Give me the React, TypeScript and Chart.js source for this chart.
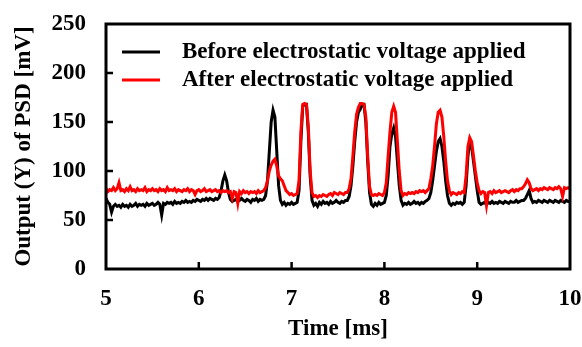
import { useEffect, useRef } from "react";
import { Chart, registerables } from "chart.js";

Chart.register(...registerables);

// Sampling grid of the oscilloscope trace (ms)
const TIME_START = 5;
const TIME_STEP = 0.02;

// Output (Y) of PSD [mV], one value per 0.02 ms from 5.00 to 10.00 ms
const beforeValues = [
  72, 68, 66, 58, 64,
  66, 64, 65, 63, 66,
  64, 65, 63, 66, 64,
  65, 67, 64, 66, 65,
  66, 64, 67, 65, 66,
  67, 65, 66, 68, 66,
  55, 67, 66, 68, 67,
  68, 66, 69, 67, 68,
  67, 69, 68, 70, 68,
  69, 68, 70, 69, 71,
  70, 69, 71, 70, 72,
  70, 72, 71, 70, 72,
  71, 73, 80, 90, 96,
  90, 78, 71, 69, 70,
  71, 69, 70, 72, 70,
  69, 71, 70, 68, 71,
  70, 72, 69, 71, 70,
  71, 75, 90, 120, 150,
  162, 155, 120, 85, 70,
  66, 68, 65, 67, 66,
  68, 66, 67, 68, 80,
  130, 166, 168, 168, 140,
  95, 70, 65, 67, 64,
  68, 66, 69, 67, 68,
  66, 69, 67, 68, 70,
  68, 67, 69, 68, 70,
  70, 74, 85, 105, 130,
  150, 160, 163, 168, 168,
  150, 110, 78, 66, 64,
  67, 65, 68, 66, 67,
  68, 75, 95, 125, 138,
  144, 135, 110, 85, 70,
  65, 67, 66, 68, 66,
  67, 69, 67, 68, 66,
  68, 67, 69, 70, 72,
  78, 90, 105, 120, 130,
  133, 125, 110, 90, 75,
  67, 65, 67, 66, 68,
  67, 68, 66, 68, 85,
  115, 130, 125, 110, 95,
  80, 68, 66, 67, 68,
  66, 68, 67, 69, 67,
  68, 67, 69, 68, 67,
  69, 68, 67, 69, 68,
  68, 70, 68, 69, 70,
  70, 72, 76, 80, 72,
  68, 69, 68, 70, 69,
  68, 70, 69, 68, 70,
  69, 68, 70, 69, 68,
  70, 69, 68, 70, 69,
  69,
];

const afterValues = [
  82, 79, 81, 80, 83,
  80, 82, 88, 80, 81,
  79, 82, 80, 84, 80,
  81, 79, 82, 80, 81,
  80, 83, 79, 81, 80,
  82, 80, 81, 79, 82,
  80, 81, 79, 83, 80,
  81, 80, 82, 79, 81,
  80, 79, 81, 80, 82,
  79, 81, 80, 76, 80,
  81, 79, 80, 82, 79,
  80, 81, 79, 80, 81,
  79, 80, 78, 80, 79,
  80, 78, 79, 72, 79,
  78, 67, 79, 77, 80,
  78, 79, 77, 79, 78,
  79, 77, 80, 78, 79,
  80, 83, 90, 100, 106,
  110, 112, 105, 95, 92,
  90, 85, 80, 78, 76,
  77, 75, 76, 77, 90,
  140, 168, 169, 168, 145,
  100, 78, 74, 75, 73,
  75, 74, 76, 75, 74,
  76, 77, 75, 78, 77,
  76, 78, 77, 76, 78,
  78, 82, 92, 115, 140,
  158, 165, 169, 169, 168,
  155, 115, 84, 76, 75,
  76, 75, 77, 76, 75,
  78, 88, 115, 140, 160,
  166, 160, 130, 100, 80,
  75, 77, 76, 78, 77,
  78, 77, 79, 78, 80,
  79, 80, 78, 80, 82,
  92, 105, 125, 148, 160,
  162, 155, 135, 110, 90,
  80, 76, 78, 77, 76,
  78, 77, 79, 78, 95,
  125, 134, 130, 115, 100,
  88, 80, 77, 79, 78,
  65, 78, 79, 77, 80,
  78, 79, 80, 78, 79,
  80, 79, 78, 80, 81,
  79, 81, 80, 82, 82,
  84, 87, 91, 88, 82,
  80, 81, 82, 80, 82,
  81, 83, 82, 81, 83,
  82, 81, 83, 82, 84,
  82, 74, 83, 82, 83,
  82,
];

const seriesLabels = [
  "Before electrostatic voltage applied",
  "After electrostatic voltage applied",
];
const seriesColors = ["#000000", "#ff0000"];
const xTickValues = [5, 6, 7, 8, 9, 10];
const yTickValues = [0, 50, 100, 150, 200, 250];
const xTitle = "Time [ms]";
const yTitle = "Output (Y) of PSD [mV]";

const FONT = "'Liberation Serif', 'Times New Roman', serif";
const FONT_SIZE = 23;

const toPoints = (vals: number[]) =>
  vals.map((v, i) => ({ x: +(TIME_START + i * TIME_STEP).toFixed(2), y: v }));

const framePlugin = {
  id: "frameAndLegend",
  afterDatasetsDraw(chart: any) {
    const { ctx, chartArea: a, scales } = chart;
    ctx.save();
    ctx.strokeStyle = "#000";
    ctx.lineWidth = 3;
    ctx.strokeRect(a.left, a.top, a.right - a.left, a.bottom - a.top);
    ctx.lineWidth = 2.5;
    ctx.beginPath();
    xTickValues.slice(1, -1).forEach((v) => {
      const px = scales.x.getPixelForValue(v);
      ctx.moveTo(px, a.bottom);
      ctx.lineTo(px, a.bottom - 7);
    });
    yTickValues.slice(1, -1).forEach((v) => {
      const py = scales.y.getPixelForValue(v);
      ctx.moveTo(a.left, py);
      ctx.lineTo(a.left + 7, py);
    });
    ctx.stroke();

    // legend inside the plot area
    ctx.font = `bold ${FONT_SIZE}px ${FONT}`;
    ctx.textBaseline = "middle";
    ctx.textAlign = "left";
    chart.data.datasets.forEach((ds: any, i: number) => {
      const y = a.top + 28 + i * 28;
      ctx.strokeStyle = ds.borderColor;
      ctx.lineWidth = 3;
      ctx.beginPath();
      ctx.moveTo(a.left + 16, y);
      ctx.lineTo(a.left + 54, y);
      ctx.stroke();
      ctx.fillStyle = "#000";
      ctx.fillText(ds.label, a.left + 76, y);
    });
    ctx.restore();
  },
};

export default function App() {
  const ref = useRef<HTMLCanvasElement | null>(null);

  useEffect(() => {
    if (!ref.current) return;
    const tickFont = { family: FONT, size: FONT_SIZE, weight: "bold" as const };
    const noPad = (s: any) => {
      s.paddingLeft = 0;
      s.paddingRight = 0;
      s.paddingTop = 0;
      s.paddingBottom = 0;
    };
    const chart = new Chart(ref.current, {
      type: "line",
      data: {
        datasets: [
          {
            label: seriesLabels[0],
            data: toPoints(beforeValues),
            borderColor: seriesColors[0],
            backgroundColor: seriesColors[0],
            borderWidth: 3,
            pointRadius: 0,
            tension: 0,
            order: 1,
          },
          {
            label: seriesLabels[1],
            data: toPoints(afterValues),
            borderColor: seriesColors[1],
            backgroundColor: seriesColors[1],
            borderWidth: 3,
            pointRadius: 0,
            tension: 0,
            order: 0,
          },
        ],
      },
      options: {
        responsive: false,
        animation: false,
        events: [],
        layout: { padding: { left: 0, right: 12, top: 24, bottom: 0 } },
        plugins: {
          legend: { display: false },
          tooltip: { enabled: false },
        },
        scales: {
          x: {
            type: "linear",
            min: 5,
            max: 10,
            afterBuildTicks: (s: any) => {
              s.ticks = xTickValues.map((v) => ({ value: v }));
            },
            afterFit: (s: any) => {
              s.height = 78;
              noPad(s);
            },
            grid: { display: false, drawTicks: false },
            border: { display: false },
            ticks: {
              font: tickFont,
              color: "#000",
              padding: 16,
              maxRotation: 0,
              autoSkip: false,
            },
            title: {
              display: true,
              text: xTitle,
              font: tickFont,
              color: "#000",
              padding: { top: 0, bottom: 4 },
            },
          },
          y: {
            type: "linear",
            min: 0,
            max: 250,
            afterBuildTicks: (s: any) => {
              s.ticks = yTickValues.map((v) => ({ value: v }));
            },
            afterFit: (s: any) => {
              s.width = 106;
              noPad(s);
            },
            grid: { display: false, drawTicks: false },
            border: { display: false },
            ticks: {
              font: tickFont,
              color: "#000",
              padding: 20,
              autoSkip: false,
            },
            title: {
              display: true,
              text: yTitle,
              font: tickFont,
              color: "#000",
              padding: { top: 10, bottom: 0 },
            },
          },
        },
      },
      plugins: [framePlugin],
    });
    return () => chart.destroy();
  }, []);

  return (
    <div style={{ position: "absolute", left: 0, top: 0, width: 582, height: 347, background: "#fff" }}>
      <canvas ref={ref} width={582} height={347} style={{ display: "block" }} />
    </div>
  );
}
